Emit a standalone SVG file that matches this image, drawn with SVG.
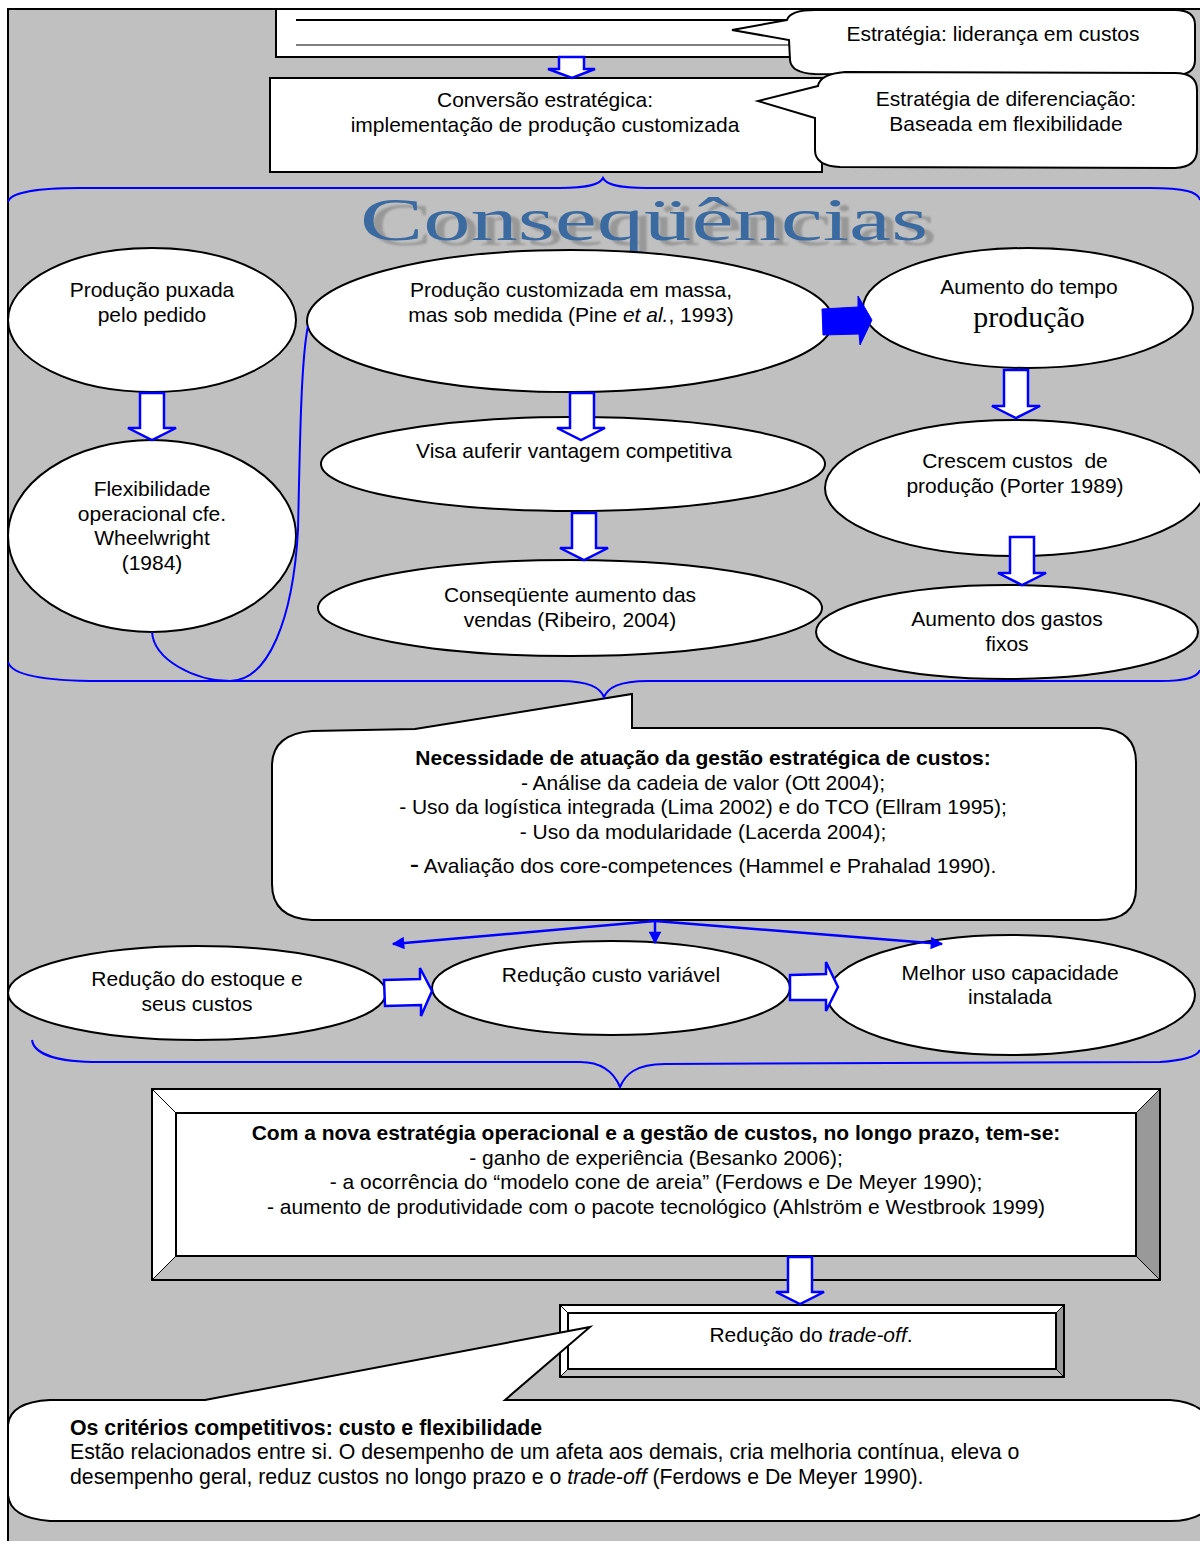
<svg xmlns="http://www.w3.org/2000/svg" width="1200" height="1541" viewBox="0 0 1200 1541">
<defs>
<style>
.node{fill:#fff;stroke:#000;stroke-width:2}
.t{font-family:"Liberation Sans",Arial,sans-serif;font-size:21px;fill:#000;text-anchor:middle}
.tl{font-family:"Liberation Sans",Arial,sans-serif;font-size:21.3px;fill:#000}
.b{font-weight:bold}
.ba{fill:#fff;stroke:#0000ff;stroke-width:2.5;stroke-linejoin:miter}
.brace{fill:none;stroke:#0000ff;stroke-width:2}
.bl{fill:none;stroke:#0000ff;stroke-width:2.5}
.bevL{fill:#fff;stroke:#000;stroke-width:1}
.bevD{fill:#999;stroke:#000;stroke-width:1}
.bevM{fill:#c0c0c0;stroke:#000;stroke-width:1}
</style>
<filter id="shadow" x="-5%" y="-20%" width="115%" height="150%">
<feFlood flood-color="#8a8a8a" flood-opacity="0.75" result="c"/>
<feComposite in="c" in2="SourceAlpha" operator="in" result="s"/>
<feOffset in="s" dx="9" dy="5" result="o"/>
<feGaussianBlur in="o" stdDeviation="0.8" result="ob"/>
<feMerge><feMergeNode in="ob"/><feMergeNode in="SourceGraphic"/></feMerge>
</filter>
<marker id="ah" viewBox="0 0 10 10" refX="9" refY="5" markerWidth="6" markerHeight="5" orient="auto" markerUnits="strokeWidth">
<path d="M0,0 L10,5 L0,10 Z" fill="#0000ff"/>
</marker>
</defs>
<rect x="8" y="9" width="1200" height="1540" fill="#c0c0c0" stroke="#000" stroke-width="2"/>

<g id="top-box">
<rect class="node" x="276" y="9" width="540" height="48"/>
<line x1="296" y1="20" x2="792" y2="20" stroke="#000" stroke-width="2"/>
<line x1="296" y1="45" x2="792" y2="45" stroke="#000" stroke-width="1"/>
</g>

<g id="conversao">
<rect class="node" x="270" y="78" width="552" height="94"/>
<text class="t" x="545" y="107">Conversão estratégica:</text>
<text class="t" x="545" y="132">implementação de produção customizada</text>
</g>

<g id="callout-custos">
<path class="node" d="M787,20 L732,30 L789,40 L790,60 Q791,73 815,74 L1175,75 Q1195,75 1195,60 L1195,25 Q1195,10 1175,10 L815,10 Q790,10 787,20 Z"/>
<text class="t" x="993" y="41">Estratégia: liderança em custos</text>
</g>

<g id="callout-diferenciacao">
<path class="node" d="M818,86 L758,101 L815,118 L815,150 Q815,166 840,167 L1175,168 Q1197,167 1197,150 L1197,90 Q1197,73 1175,73 L845,72 Q820,74 818,86 Z"/>
<text class="t" x="1006" y="106">Estratégia de diferenciação:</text>
<text class="t" x="1006" y="131">Baseada em flexibilidade</text>
</g>

<g id="titulo">
<text x="360" y="240" textLength="568" lengthAdjust="spacingAndGlyphs" font-family="'Liberation Serif','Times New Roman',serif" font-size="62" fill="#3a6ba0" filter="url(#shadow)">Conseqüências</text>
</g>

<g id="producao-puxada">
<ellipse class="node" cx="152" cy="320" rx="144" ry="72"/>
<text class="t" x="152" y="297">Produção puxada</text>
<text class="t" x="152" y="322">pelo pedido</text>
</g>

<g id="producao-customizada">
<ellipse class="node" cx="570" cy="321" rx="263" ry="71"/>
<text class="t" x="571" y="297">Produção customizada em massa,</text>
<text class="t" x="571" y="322">mas sob medida (Pine <tspan font-style="italic">et al.</tspan>, 1993)</text>
</g>

<g id="aumento-tempo">
<ellipse class="node" cx="1028" cy="308" rx="165" ry="60"/>
<text class="t" x="1029" y="294">Aumento do tempo</text>
<text x="1029" y="327" text-anchor="middle" font-family="'Liberation Serif','Times New Roman',serif" font-size="30">produção</text>
</g>

<g id="flexibilidade">
<ellipse class="node" cx="152" cy="536" rx="144" ry="96"/>
<text class="t" x="152" y="496">Flexibilidade</text>
<text class="t" x="152" y="521">operacional cfe.</text>
<text class="t" x="152" y="545">Wheelwright</text>
<text class="t" x="152" y="570">(1984)</text>
</g>

<g id="vantagem">
<ellipse class="node" cx="573" cy="464" rx="252" ry="47"/>
<text class="t" x="574" y="458">Visa auferir vantagem competitiva</text>
</g>

<g id="crescem-custos">
<ellipse class="node" cx="1015" cy="488" rx="190" ry="68"/>
<text class="t" x="1015" y="468" xml:space="preserve">Crescem custos  de</text>
<text class="t" x="1015" y="493">produção (Porter 1989)</text>
</g>

<g id="aumento-vendas">
<ellipse class="node" cx="570" cy="608" rx="252" ry="48"/>
<text class="t" x="570" y="602">Conseqüente aumento das</text>
<text class="t" x="570" y="627">vendas (Ribeiro, 2004)</text>
</g>

<g id="gastos-fixos">
<ellipse class="node" cx="1007" cy="632" rx="191" ry="47"/>
<text class="t" x="1007" y="626">Aumento dos gastos</text>
<text class="t" x="1007" y="651">fixos</text>
</g>

<g id="necessidade">
<path class="node" d="M415,729 L632,694 L632,728 L1100,728 Q1136,730 1136,762 L1136,888 Q1136,920 1098,920 L312,920 Q272,918 272,884 L272,766 Q272,734 312,731 Z"/>
<text class="t b" x="703" y="765">Necessidade de atuação da gestão estratégica de custos:</text>
<text class="t" x="703" y="790">- Análise da cadeia de valor (Ott 2004);</text>
<text class="t" x="703" y="814">- Uso da logística integrada (Lima 2002) e do TCO (Ellram 1995);</text>
<text class="t" x="703" y="839">- Uso da modularidade (Lacerda 2004);</text>
<text class="t" x="703" y="873"><tspan font-size="28">-</tspan> Avaliação dos core-competences (Hammel e Prahalad 1990).</text>
</g>

<g id="reducao-estoque">
<ellipse class="node" cx="197" cy="993" rx="189" ry="47"/>
<text class="t" x="197" y="986">Redução do estoque e</text>
<text class="t" x="197" y="1011">seus custos</text>
</g>

<g id="reducao-custo-variavel">
<ellipse class="node" cx="611" cy="988" rx="179" ry="47"/>
<text class="t" x="611" y="982">Redução custo variável</text>
</g>

<g id="capacidade">
<ellipse class="node" cx="1011" cy="995" rx="184" ry="60"/>
<text class="t" x="1010" y="980">Melhor uso capacidade</text>
<text class="t" x="1010" y="1004">instalada</text>
</g>

<g id="longo-prazo">
<polygon class="bevL" points="152,1089 1160,1089 1136,1113 176,1113"/>
<polygon class="bevL" points="152,1089 176,1113 176,1256 152,1280"/>
<polygon class="bevD" points="1160,1089 1160,1280 1136,1256 1136,1113"/>
<polygon class="bevM" points="152,1280 1160,1280 1136,1256 176,1256"/>
<rect x="152" y="1089" width="1008" height="191" fill="none" stroke="#000" stroke-width="2"/>
<rect x="176" y="1113" width="960" height="143" fill="#fff" stroke="#000" stroke-width="2"/>
<text class="t b" x="656" y="1140">Com a nova estratégia operacional e a gestão de custos, no longo prazo, tem-se:</text>
<text class="t" x="656" y="1165">- ganho de experiência (Besanko 2006);</text>
<text class="t" x="656" y="1189">- a ocorrência do “modelo cone de areia” (Ferdows e De Meyer 1990);</text>
<text class="t" x="656" y="1214">- aumento de produtividade com o pacote tecnológico (Ahlström e Westbrook 1999)</text>
</g>

<g id="reducao-tradeoff">
<polygon class="bevL" points="560,1305 1064,1305 1056,1313 568,1313"/>
<polygon class="bevL" points="560,1305 568,1313 568,1369 560,1377"/>
<polygon class="bevD" points="1064,1305 1064,1377 1056,1369 1056,1313"/>
<polygon class="bevM" points="560,1377 1064,1377 1056,1369 568,1369"/>
<rect x="560" y="1305" width="504" height="72" fill="none" stroke="#000" stroke-width="2"/>
<rect x="568" y="1313" width="488" height="56" fill="#fff" stroke="#000" stroke-width="2"/>
<text class="t" x="811" y="1342">Redução do <tspan font-style="italic">trade-off</tspan>.</text>
</g>

<g id="criterios">
<path class="node" d="M205,1400 L590,1327 L505,1400 L1170,1400 Q1200,1402 1210,1420 L1210,1505 Q1200,1521 1170,1521 L50,1521 Q10,1518 8,1495 L8,1425 Q10,1402 50,1400 Z"/>
<text class="tl b" x="70" y="1435">Os critérios competitivos: custo e flexibilidade</text>
<text class="tl" x="70" y="1459">Estão relacionados entre si. O desempenho de um afeta aos demais, cria melhoria contínua, eleva o</text>
<text class="tl" x="70" y="1484">desempenho geral, reduz custos no longo prazo e o <tspan font-style="italic">trade-off</tspan> (Ferdows e De Meyer 1990).</text>
</g>

<g id="connectors">
<path class="ba" d="M559,57 L584,57 L584,69 L595,69 L572,78 L548,69 L559,69 Z"/>
<path class="brace" d="M8,202 C10,192 40,188 80,188 L560,188 C590,188 600,184 603,178 C606,184 616,188 646,188 L1150,188 C1185,188 1198,192 1200,200"/>
<path class="ba" d="M140,393 L164,393 L164,428 L176,428 L152,440 L128,428 L140,428 Z"/>
<path class="ba" d="M570,393 L594,393 L594,428 L605,428 L581,440 L557,428 L570,428 Z"/>
<path class="ba" d="M572,513 L596,513 L596,548 L608,548 L584,560 L560,548 L572,548 Z"/>
<path class="ba" d="M1004,370 L1028,370 L1028,406 L1040,406 L1016,418 L992,406 L1004,406 Z"/>
<path class="ba" d="M1010,537 L1034,537 L1034,573 L1046,573 L1022,585 L998,573 L1010,573 Z"/>
<polygon points="822,309 858,307 858,296 872,320 860,345 859,334 823,335" fill="#0000ff" stroke="#0000ff" stroke-width="1"/>
<path class="brace" d="M152,632 C154,660 195,681 230,681 C268,681 293,620 298,530 C300,440 301,360 308,326"/>
<path class="brace" d="M8,662 C12,676 50,681 100,681 L560,681 C590,681 600,688 604,697 C608,688 618,681 648,681 L1160,681 C1190,681 1198,676 1200,670"/>
<line class="bl" x1="655" y1="921" x2="393" y2="944" marker-end="url(#ah)"/>
<line class="bl" x1="655" y1="921" x2="655" y2="943" marker-end="url(#ah)"/>
<line class="bl" x1="655" y1="921" x2="942" y2="944" marker-end="url(#ah)"/>
<path class="ba" d="M384,980 L420,979 L420,968 L432,991 L421,1016 L421,1005 L385,1006 Z"/>
<path class="ba" d="M790,975 L826,974 L826,962 L838,987 L826,1011 L826,1000 L790,1000 Z"/>
<path class="brace" d="M32,1040 C34,1055 60,1062 100,1062 L580,1062 C605,1062 615,1075 620,1087 C625,1075 635,1064 665,1064 L1160,1062 C1190,1060 1198,1054 1200,1050"/>
<path class="ba" d="M788,1257 L812,1257 L812,1292 L824,1292 L800,1304 L776,1292 L788,1292 Z"/>
</g>
</svg>
